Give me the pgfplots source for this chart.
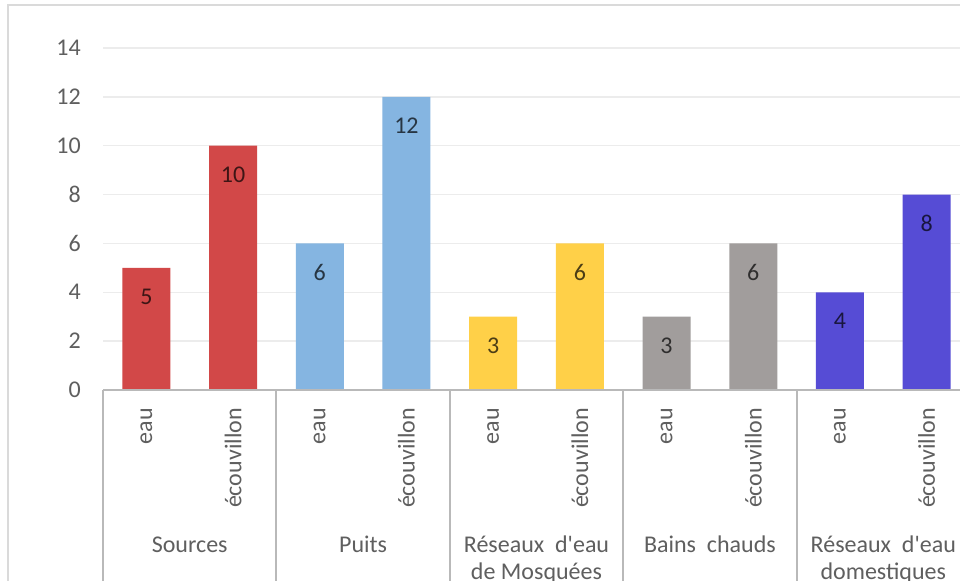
\documentclass[border=0pt]{standalone}
\usepackage{pgfplots}
\pgfplotsset{compat=1.18}
\usepackage{fontspec}
\newfontfamily\carlito{Carlito}
\definecolor{cred}{RGB}{210,72,72}
\definecolor{cblue}{RGB}{133,181,225}
\definecolor{cyellow}{RGB}{255,208,72}
\definecolor{cgray}{RGB}{161,157,156}
\definecolor{cpurple}{RGB}{86,76,213}
\definecolor{gridgray}{RGB}{236,236,236}
\definecolor{axisgray}{RGB}{185,185,185}
\definecolor{bordergray}{RGB}{218,218,218}
\definecolor{labgray}{RGB}{95,95,95}
\pgfkeys{/pgf/number format/assume math mode=true}
\newcommand{\lblfont}{\carlito\fontsize{24bp}{28bp}\selectfont}
\begin{document}
\begin{tikzpicture}[x=1bp,y=1bp]
\useasboundingbox (0,0) rectangle (960,581);
\clip (0,0) rectangle (960,581);
\fill[white] (0,0) rectangle (960,581);
\draw[bordergray, line width=2bp] (8,-20) -- (8,576) -- (1000,576);
\begin{axis}[
  at={(103bp,191bp)}, anchor=south west,
  scale only axis, width=867bp, height=342bp,
  xmin=-0.5, xmax=9.5, ymin=0, ymax=14,
  ytick={0,2,...,14},
  xtick={0,...,9},
  xticklabels={eau,écouvillon,eau,écouvillon,eau,écouvillon,eau,écouvillon,eau,écouvillon},
  major tick length=0pt,
  axis line style={draw=none},
  ymajorgrids, grid style={gridgray, line width=1.5bp},
  tick label style={font=\lblfont, text=labgray},
  yticklabel style={anchor=east, inner sep=0pt, xshift=-22bp},
  xticklabel style={yshift=-18bp, rotate=90, anchor=east, inner sep=0pt},
  ybar, bar width=48bp, bar shift=0pt,
  clip=false,
  nodes near coords,
  every node near coord/.append style={anchor=center, yshift=-29bp, font=\lblfont, text=black, text opacity=0.7},
]
\addplot[fill=cred, draw=none] coordinates {(0,5) (1,10)};
\addplot[fill=cblue, draw=none] coordinates {(2,6) (3,12)};
\addplot[fill=cyellow, draw=none] coordinates {(4,3) (5,6)};
\addplot[fill=cgray, draw=none] coordinates {(6,3) (7,6)};
\addplot[fill=cpurple, draw=none] coordinates {(8,4) (9,8)};
\draw[axisgray, line width=2bp] (axis cs:-0.5,0) -- (axis cs:9.5,0);
\draw[axisgray, line width=2bp] (axis cs:-0.5,0) -- ([yshift=-230bp]axis cs:-0.5,0);
\draw[axisgray, line width=2bp] (axis cs:1.5,0) -- ([yshift=-230bp]axis cs:1.5,0);
\draw[axisgray, line width=2bp] (axis cs:3.5,0) -- ([yshift=-230bp]axis cs:3.5,0);
\draw[axisgray, line width=2bp] (axis cs:5.5,0) -- ([yshift=-230bp]axis cs:5.5,0);
\draw[axisgray, line width=2bp] (axis cs:7.5,0) -- ([yshift=-230bp]axis cs:7.5,0);
\draw[axisgray, line width=2bp] (axis cs:9.5,0) -- ([yshift=-230bp]axis cs:9.5,0);
\node[anchor=base, inner sep=0pt, font=\lblfont, text=labgray] at ([yshift=-163bp]axis cs:0.5,0) {Sources};
\node[anchor=base, inner sep=0pt, font=\lblfont, text=labgray] at ([yshift=-163bp]axis cs:2.5,0) {Puits};
\node[anchor=base, inner sep=0pt, font=\lblfont, text=labgray] at ([yshift=-163bp]axis cs:4.5,0) {Réseaux\ \ d'eau};
\node[anchor=base, inner sep=0pt, font=\lblfont, text=labgray] at ([yshift=-190bp]axis cs:4.5,0) {de Mosquées};
\node[anchor=base, inner sep=0pt, font=\lblfont, text=labgray] at ([yshift=-163bp]axis cs:6.5,0) {Bains\ \ chauds};
\node[anchor=base, inner sep=0pt, font=\lblfont, text=labgray] at ([yshift=-163bp]axis cs:8.5,0) {Réseaux\ \ d'eau};
\node[anchor=base, inner sep=0pt, font=\lblfont, text=labgray] at ([yshift=-190bp]axis cs:8.5,0) {domestiques};
\end{axis}
\end{tikzpicture}
\end{document}
